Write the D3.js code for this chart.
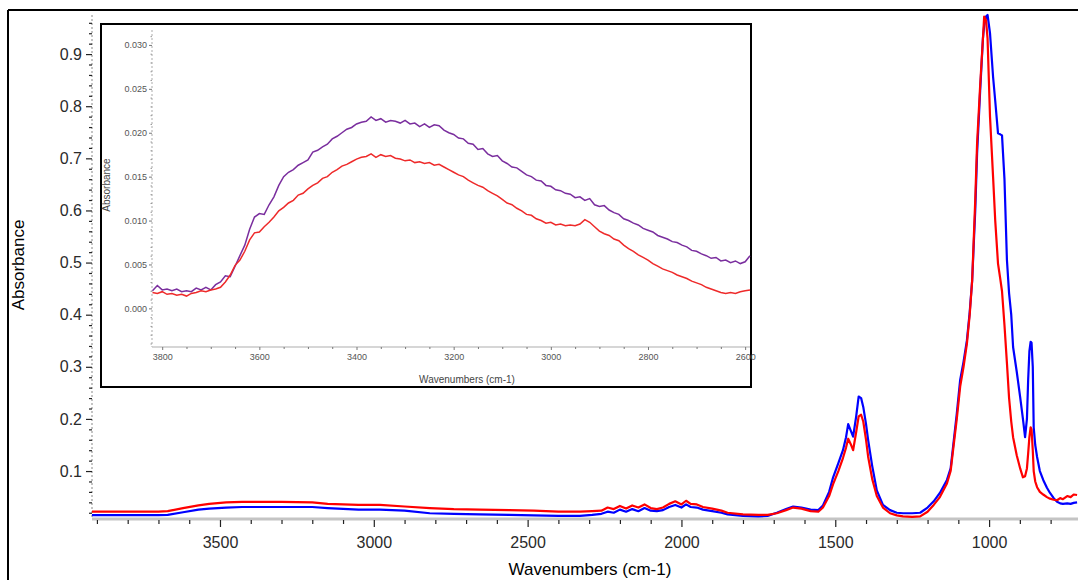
<!DOCTYPE html>
<html>
<head>
<meta charset="utf-8">
<script src="https://cdn.jsdelivr.net/npm/d3@7"></script>
<style>
  html, body { margin: 0; padding: 0; background: #fff; }
  svg { display: block; font-family: "Liberation Sans", Arial, sans-serif; }
</style>
</head>
<body>
<svg id="chart" width="1078" height="580"></svg>
<script>
// ---------------- Main spectrum data ----------------
const wavenumbers = [3916, 3800, 3700, 3670, 3620, 3570, 3535, 3480, 3428, 3300, 3200, 3150, 3050, 2980, 2900, 2818, 2740, 2656, 2560, 2480, 2400, 2330, 2290, 2260, 2240, 2220, 2200, 2180, 2160, 2140, 2120, 2100, 2080, 2060, 2040, 2020, 2000, 1985, 1970, 1950, 1930, 1900, 1870, 1850, 1800, 1750, 1720, 1690, 1660, 1637, 1610, 1580, 1555, 1540, 1520, 1507, 1490, 1475, 1465, 1458, 1450, 1442, 1432, 1424, 1416, 1409, 1400, 1393, 1380, 1365, 1345, 1322, 1300, 1280, 1250, 1224, 1200, 1180, 1160, 1137, 1125, 1117, 1105, 1094, 1083, 1072, 1063, 1055, 1045, 1039, 1029, 1020, 1016, 1010, 1005, 997, 987, 980, 971, 964, 958, 950, 942, 935, 928, 922, 910, 899, 890, 883, 877, 873, 869, 865, 862, 858, 855, 850, 844, 835, 824, 812, 802, 790, 779, 769, 760, 746, 735, 725, 714];

const redAbsorbance = [0.022, 0.022, 0.022, 0.023, 0.029, 0.034, 0.037, 0.040, 0.041, 0.041, 0.040, 0.037, 0.035, 0.035, 0.032, 0.029, 0.027, 0.026, 0.025, 0.024, 0.022, 0.022, 0.023, 0.024, 0.030, 0.027, 0.033, 0.028, 0.034, 0.030, 0.036, 0.029, 0.027, 0.030, 0.037, 0.042, 0.036, 0.043, 0.037, 0.036, 0.031, 0.028, 0.024, 0.020, 0.017, 0.016, 0.016, 0.019, 0.025, 0.030, 0.028, 0.023, 0.022, 0.030, 0.052, 0.075, 0.100, 0.125, 0.145, 0.162, 0.152, 0.140, 0.175, 0.205, 0.208, 0.195, 0.160, 0.127, 0.085, 0.052, 0.030, 0.019, 0.015, 0.013, 0.012, 0.013, 0.022, 0.035, 0.050, 0.076, 0.100, 0.140, 0.200, 0.262, 0.300, 0.345, 0.400, 0.466, 0.620, 0.729, 0.840, 0.930, 0.972, 0.965, 0.930, 0.780, 0.664, 0.580, 0.498, 0.470, 0.445, 0.380, 0.307, 0.240, 0.195, 0.165, 0.130, 0.105, 0.088, 0.090, 0.105, 0.134, 0.165, 0.184, 0.180, 0.140, 0.100, 0.080, 0.069, 0.060, 0.055, 0.050, 0.047, 0.045, 0.044, 0.048, 0.046, 0.052, 0.050, 0.055, 0.054];

const blueAbsorbance = [0.0155, 0.0155, 0.0155, 0.016, 0.021, 0.026, 0.028, 0.030, 0.031, 0.031, 0.031, 0.029, 0.026, 0.026, 0.024, 0.019, 0.018, 0.017, 0.016, 0.015, 0.014, 0.014, 0.016, 0.018, 0.022, 0.020, 0.026, 0.022, 0.027, 0.023, 0.029, 0.024, 0.023, 0.025, 0.031, 0.035, 0.030, 0.036, 0.031, 0.030, 0.026, 0.023, 0.020, 0.017, 0.014, 0.013, 0.014, 0.020, 0.027, 0.032, 0.030, 0.026, 0.025, 0.034, 0.060, 0.088, 0.115, 0.140, 0.165, 0.190, 0.178, 0.166, 0.205, 0.243, 0.240, 0.223, 0.190, 0.159, 0.110, 0.063, 0.035, 0.025, 0.020, 0.019, 0.019, 0.020, 0.030, 0.042, 0.058, 0.083, 0.105, 0.147, 0.210, 0.275, 0.310, 0.351, 0.405, 0.466, 0.600, 0.710, 0.830, 0.930, 0.955, 0.972, 0.975, 0.940, 0.856, 0.810, 0.748, 0.746, 0.744, 0.660, 0.505, 0.441, 0.400, 0.338, 0.290, 0.242, 0.200, 0.165, 0.200, 0.275, 0.330, 0.348, 0.346, 0.300, 0.184, 0.150, 0.127, 0.100, 0.083, 0.068, 0.058, 0.048, 0.041, 0.038, 0.037, 0.038, 0.037, 0.039, 0.040];

const mainXTicks = [3500, 3000, 2500, 2000, 1500, 1000];
const mainYTicks = [0.1, 0.2, 0.3, 0.4, 0.5, 0.6, 0.7, 0.8, 0.9];

// ---------------- Inset data ----------------
const insetWavenumbers = [3820, 3810, 3800, 3790, 3780, 3770, 3760, 3750, 3740, 3730, 3720, 3710, 3700, 3690, 3680, 3670, 3660, 3650, 3640, 3630, 3620, 3610, 3600, 3590, 3580, 3570, 3560, 3550, 3540, 3530, 3520, 3510, 3500, 3490, 3480, 3470, 3460, 3450, 3440, 3430, 3420, 3410, 3400, 3390, 3380, 3370, 3360, 3350, 3340, 3330, 3320, 3310, 3300, 3290, 3280, 3270, 3260, 3250, 3240, 3230, 3220, 3210, 3200, 3190, 3180, 3170, 3160, 3150, 3140, 3130, 3120, 3110, 3100, 3090, 3080, 3070, 3060, 3050, 3040, 3030, 3020, 3010, 3000, 2990, 2980, 2970, 2960, 2950, 2940, 2930, 2920, 2910, 2900, 2890, 2880, 2870, 2860, 2850, 2840, 2830, 2820, 2810, 2800, 2790, 2780, 2770, 2760, 2750, 2740, 2730, 2720, 2710, 2700, 2690, 2680, 2670, 2660, 2650, 2640, 2630, 2620, 2610, 2600, 2590];

const insetPurple = [0.0020, 0.0026, 0.0021, 0.0022, 0.0020, 0.0022, 0.0019, 0.0020, 0.0019, 0.0023, 0.0021, 0.0024, 0.0021, 0.0027, 0.0030, 0.0037, 0.0036, 0.0048, 0.0060, 0.0072, 0.0090, 0.0104, 0.0108, 0.0107, 0.0118, 0.0127, 0.0140, 0.0150, 0.0155, 0.0158, 0.0163, 0.0166, 0.0169, 0.0178, 0.0180, 0.0184, 0.0187, 0.0193, 0.0196, 0.0200, 0.0204, 0.0206, 0.0210, 0.0212, 0.0213, 0.0218, 0.0214, 0.0216, 0.0212, 0.0214, 0.0213, 0.0211, 0.0214, 0.0210, 0.0211, 0.0207, 0.0210, 0.0206, 0.0209, 0.0208, 0.0203, 0.0200, 0.0198, 0.0194, 0.0193, 0.0188, 0.0187, 0.0181, 0.0182, 0.0176, 0.0173, 0.0174, 0.0168, 0.0165, 0.0161, 0.0160, 0.0156, 0.0152, 0.0150, 0.0146, 0.0145, 0.0140, 0.0139, 0.0135, 0.0134, 0.0131, 0.0130, 0.0126, 0.0127, 0.0123, 0.0125, 0.0118, 0.0116, 0.0117, 0.0112, 0.0109, 0.0107, 0.0102, 0.0100, 0.0097, 0.0095, 0.0091, 0.0089, 0.0087, 0.0083, 0.0081, 0.0079, 0.0076, 0.0075, 0.0072, 0.0070, 0.0066, 0.0065, 0.0062, 0.0060, 0.0057, 0.0058, 0.0054, 0.0055, 0.0052, 0.0054, 0.0051, 0.0053, 0.0060];

const insetRed = [0.0018, 0.0017, 0.0019, 0.0016, 0.0017, 0.0015, 0.0016, 0.0014, 0.0017, 0.0018, 0.0020, 0.0019, 0.0021, 0.0022, 0.0024, 0.0030, 0.0038, 0.0049, 0.0055, 0.0065, 0.0078, 0.0086, 0.0087, 0.0093, 0.0098, 0.0104, 0.0111, 0.0115, 0.0120, 0.0123, 0.0129, 0.0131, 0.0136, 0.0140, 0.0143, 0.0148, 0.0150, 0.0155, 0.0158, 0.0162, 0.0164, 0.0167, 0.0170, 0.0172, 0.0173, 0.0176, 0.0172, 0.0175, 0.0173, 0.0174, 0.0171, 0.0170, 0.0168, 0.0169, 0.0166, 0.0167, 0.0165, 0.0166, 0.0163, 0.0164, 0.0161, 0.0158, 0.0155, 0.0152, 0.0150, 0.0146, 0.0143, 0.0140, 0.0138, 0.0134, 0.0131, 0.0128, 0.0124, 0.0120, 0.0118, 0.0114, 0.0111, 0.0107, 0.0106, 0.0102, 0.0100, 0.0097, 0.0098, 0.0095, 0.0096, 0.0094, 0.0095, 0.0094, 0.0096, 0.0101, 0.0098, 0.0093, 0.0088, 0.0085, 0.0083, 0.0079, 0.0077, 0.0072, 0.0068, 0.0065, 0.0061, 0.0058, 0.0055, 0.0051, 0.0048, 0.0045, 0.0043, 0.0041, 0.0038, 0.0036, 0.0034, 0.0031, 0.0029, 0.0027, 0.0024, 0.0022, 0.0020, 0.0018, 0.0017, 0.0018, 0.0017, 0.0019, 0.0020, 0.0021];

const insetXTicks = [3800, 3600, 3400, 3200, 3000, 2800, 2600];
const insetYTicks = [0.000, 0.005, 0.010, 0.015, 0.020, 0.025, 0.030];

// ---------------- Drawing ----------------
const svg = d3.select("#chart");

// outer frame (left and top edges visible)
svg.append("line").attr("x1", 8).attr("y1", 10).attr("x2", 8).attr("y2", 580).attr("stroke", "#000").attr("stroke-width", 2);
svg.append("line").attr("x1", 8).attr("y1", 10).attr("x2", 1078).attr("y2", 10).attr("stroke", "#000").attr("stroke-width", 2);

const plot = { left: 92, right: 1078, top: 15, bottom: 519 };
const x = d3.scaleLinear().domain([3916, 711]).range([plot.left, plot.right]);
const y = d3.scaleLinear().domain([0.008, 0.975]).range([plot.bottom, plot.top]);

// axis lines
svg.append("line").attr("x1", plot.left).attr("x2", plot.right).attr("y1", plot.bottom).attr("y2", plot.bottom)
  .attr("stroke", "#c4c4c4").attr("stroke-width", 3);
svg.append("line").attr("x1", plot.left).attr("x2", plot.left).attr("y1", plot.top).attr("y2", plot.bottom)
  .attr("stroke", "#c4c4c4").attr("stroke-width", 2).attr("stroke-dasharray", "2,2");

// X axis ticks
const xMinor = d3.range(3900, 700, -100).filter(v => v % 500 !== 0);
const xMinorAxis = d3.axisBottom(x).tickValues(xMinor).tickSize(4).tickFormat("");
const gxm = svg.append("g").attr("transform", `translate(0,${plot.bottom + 1})`).call(xMinorAxis);
gxm.select(".domain").remove();
gxm.selectAll(".tick line").attr("stroke", "#222").attr("stroke-width", 1.2);

const xAxis = d3.axisBottom(x).tickValues(mainXTicks).tickSize(7).tickPadding(10).tickFormat(d3.format("d"));
const gx = svg.append("g").attr("transform", `translate(0,${plot.bottom + 1})`).call(xAxis);
gx.select(".domain").remove();
gx.selectAll(".tick line").attr("stroke", "#222").attr("stroke-width", 1.2);
gx.selectAll(".tick text").attr("font-size", 16).attr("fill", "#2a2a2a").attr("font-family", "Liberation Sans, Arial, sans-serif");

// Y axis ticks
const yMinor = d3.range(0.02, 0.97, 0.02).map(v => +v.toFixed(2)).filter(v => Math.abs(v * 10 - Math.round(v * 10)) > 1e-6);
const yMinorAxis = d3.axisLeft(y).tickValues(yMinor).tickSize(3).tickFormat("");
const gym = svg.append("g").attr("transform", `translate(${plot.left},0)`).call(yMinorAxis);
gym.select(".domain").remove();
gym.selectAll(".tick line").attr("stroke", "#222").attr("stroke-width", 1.2);

const yAxis = d3.axisLeft(y).tickValues(mainYTicks).tickSize(6).tickPadding(4).tickFormat(d3.format(".1f"));
const gy = svg.append("g").attr("transform", `translate(${plot.left},0)`).call(yAxis);
gy.select(".domain").remove();
gy.selectAll(".tick line").attr("stroke", "#222").attr("stroke-width", 1.2);
gy.selectAll(".tick text").attr("font-size", 16).attr("fill", "#2a2a2a").attr("font-family", "Liberation Sans, Arial, sans-serif");

// axis titles
svg.append("text").attr("transform", "translate(24,265) rotate(-90)").attr("text-anchor", "middle")
  .attr("font-size", 17).attr("fill", "#000").text("Absorbance");
svg.append("text").attr("x", 590).attr("y", 575).attr("text-anchor", "middle")
  .attr("font-size", 17).attr("fill", "#000").text("Wavenumbers (cm-1)");

// main curves
const clip = svg.append("clipPath").attr("id", "mainclip").append("rect")
  .attr("x", plot.left).attr("y", plot.top - 2).attr("width", plot.right - plot.left).attr("height", plot.bottom - plot.top + 1);
const line = d3.line().x(d => x(d[0])).y(d => y(d[1]));
const gLines = svg.append("g").attr("clip-path", "url(#mainclip)");
gLines.append("path").datum(wavenumbers.map((w, i) => [w, blueAbsorbance[i]]))
  .attr("d", line).attr("fill", "none").attr("stroke", "#0000ff").attr("stroke-width", 2.2).attr("stroke-linejoin", "round");
gLines.append("path").datum(wavenumbers.map((w, i) => [w, redAbsorbance[i]]))
  .attr("d", line).attr("fill", "none").attr("stroke", "#ff0000").attr("stroke-width", 2.2).attr("stroke-linejoin", "round");

// ---------------- Inset ----------------
const inset = svg.append("g");
inset.append("rect").attr("x", 101).attr("y", 24).attr("width", 650).attr("height", 363)
  .attr("fill", "#fff").attr("stroke", "#000").attr("stroke-width", 2);

const ip = { left: 152, right: 750, top: 30, bottom: 347 };
const ix = d3.scaleLinear().domain([3821, 2590]).range([ip.left, ip.right]);
const iy = d3.scaleLinear().domain([-0.0044, 0.0317]).range([ip.bottom, ip.top]);

inset.append("line").attr("x1", ip.left).attr("x2", ip.right).attr("y1", ip.bottom).attr("y2", ip.bottom)
  .attr("stroke", "#c8c8c8").attr("stroke-width", 1.5);
inset.append("line").attr("x1", ip.left).attr("x2", ip.left).attr("y1", ip.top).attr("y2", ip.bottom)
  .attr("stroke", "#c8c8c8").attr("stroke-width", 1.5).attr("stroke-dasharray", "2,2");

const ixMinor = d3.range(3800, 2580, -50).filter(v => v % 200 !== 0);
const gixm = inset.append("g").attr("transform", `translate(0,${ip.bottom})`)
  .call(d3.axisBottom(ix).tickValues(ixMinor).tickSize(2).tickFormat(""));
gixm.select(".domain").remove();
gixm.selectAll(".tick line").attr("stroke", "#777");

const gix = inset.append("g").attr("transform", `translate(0,${ip.bottom})`)
  .call(d3.axisBottom(ix).tickValues(insetXTicks).tickSize(3).tickPadding(4).tickFormat(d3.format("d")));
gix.select(".domain").remove();
gix.selectAll(".tick line").attr("stroke", "#777");
gix.selectAll(".tick text").attr("font-size", 9).attr("fill", "#555");

const iyMinor = d3.range(-4, 32, 1).map(v => v / 1000).filter(v => Math.abs(v * 200 - Math.round(v * 200)) > 1e-6);
const giym = inset.append("g").attr("transform", `translate(${ip.left},0)`)
  .call(d3.axisLeft(iy).tickValues(iyMinor).tickSize(1.5).tickFormat(""));
giym.select(".domain").remove();
giym.selectAll(".tick line").attr("stroke", "#999");

const giy = inset.append("g").attr("transform", `translate(${ip.left},0)`)
  .call(d3.axisLeft(iy).tickValues(insetYTicks).tickSize(3).tickPadding(2).tickFormat(d3.format(".3f")));
giy.select(".domain").remove();
giy.selectAll(".tick line").attr("stroke", "#777");
giy.selectAll(".tick text").attr("font-size", 9).attr("fill", "#555");

inset.append("text").attr("transform", "translate(110,185) rotate(-90)").attr("text-anchor", "middle")
  .attr("font-size", 10).attr("fill", "#444").text("Absorbance");
inset.append("text").attr("x", 467).attr("y", 383).attr("text-anchor", "middle")
  .attr("font-size", 10).attr("fill", "#444").text("Wavenumbers (cm-1)");

const iline = d3.line().x(d => ix(d[0])).y(d => iy(d[1]));
inset.append("path").datum(insetWavenumbers.map((w, i) => [w, insetPurple[i]]))
  .attr("d", iline).attr("fill", "none").attr("stroke", "#7a2e9e").attr("stroke-width", 1.5);
inset.append("path").datum(insetWavenumbers.map((w, i) => [w, insetRed[i]]))
  .attr("d", iline).attr("fill", "none").attr("stroke", "#ee2a2a").attr("stroke-width", 1.5);
</script>
</body>
</html>
